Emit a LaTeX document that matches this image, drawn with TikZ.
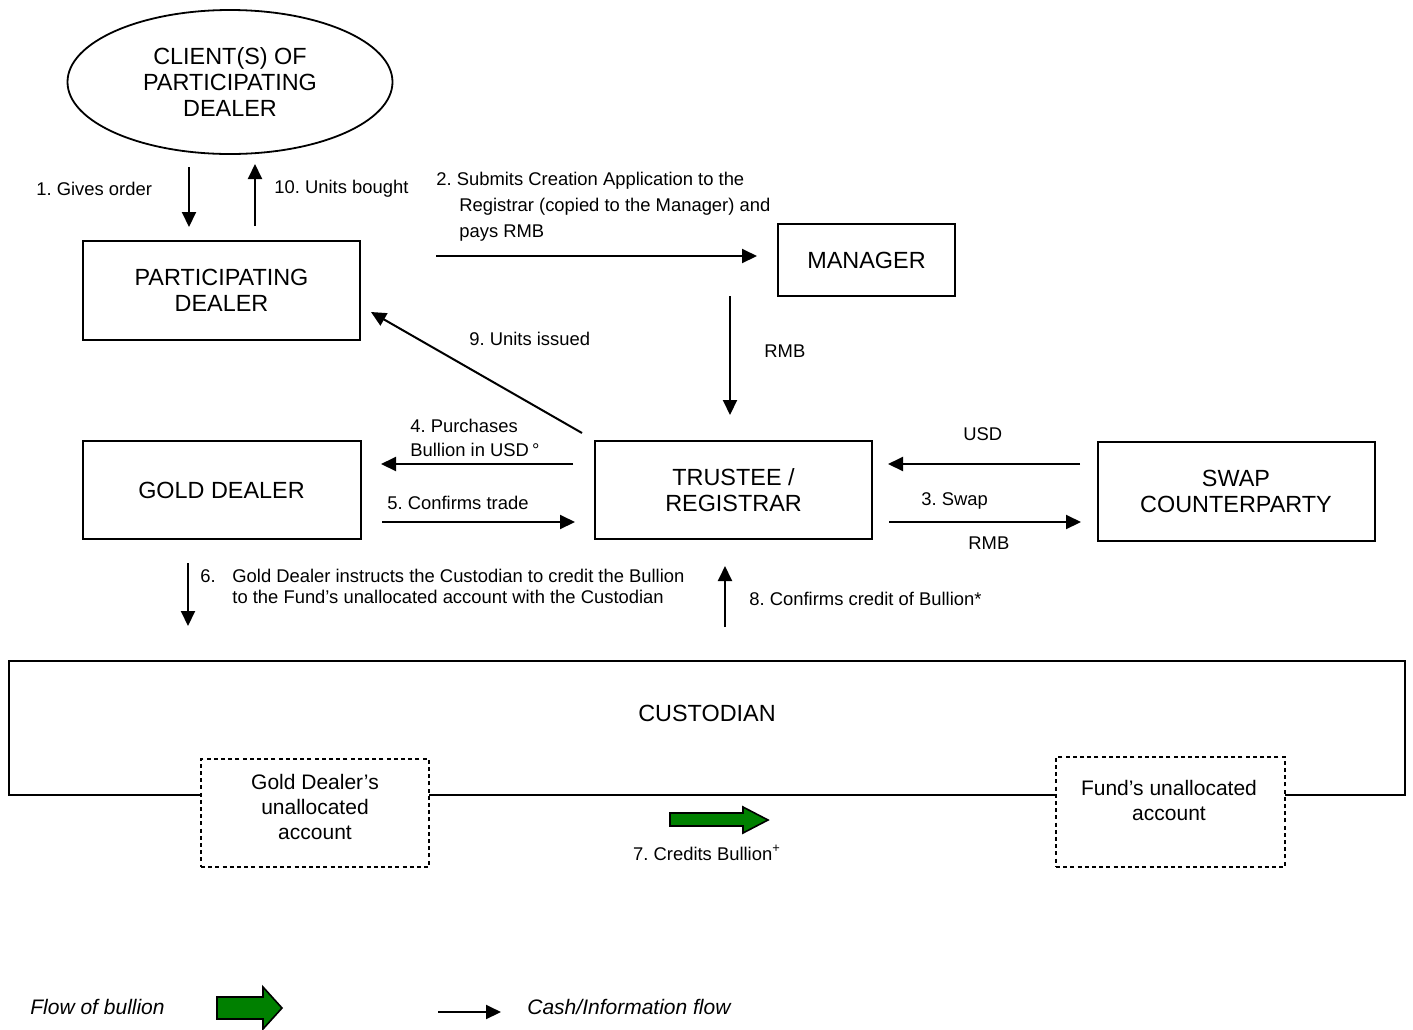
\documentclass[tikz,border=0pt]{standalone}
\usepackage{fontspec}
\setmainfont{Liberation Sans}
\usepackage{tikz}
\usetikzlibrary{shapes.geometric,arrows.meta}
\frenchspacing

\definecolor{bulliongreen}{RGB}{0,128,0}
\newcommand\partyfont{\fontsize{11.7}{13}\selectfont}
\newcommand\lblfont{\fontsize{9.2}{13}\selectfont}
\newcommand\acctfont{\fontsize{10.5}{12.5}\selectfont}

\tikzset{
  party/.style={draw, line width=1pt, align=center, font=\partyfont},
  acct/.style={draw, line width=0.9pt, dash pattern=on 2pt off 1.6pt, fill=white},
  flow/.style={-{Triangle[length=7.5pt,width=7pt]}, line width=1pt},
  lbl/.style={inner sep=0pt, align=left, font=\lblfont},
  bullion/.style={draw, line width=0.8pt, fill=bulliongreen},
}

\begin{document}
\begin{tikzpicture}[x=0.5pt, y=-0.5pt]
  \useasboundingbox (0,0) rectangle (1413,1029);

  \node[ellipse, draw, line width=0.9pt, minimum width=162.5pt, minimum height=72pt,
        align=center, font=\partyfont] (client) at (230,82) {CLIENT(S) OF\\PARTICIPATING\\DEALER};
  \node[party, minimum width=138.5pt, minimum height=49.5pt] (dealer) at (221.5,290.5) {PARTICIPATING\\DEALER};
  \node[party, minimum width=88.5pt, minimum height=36pt] (manager) at (866.5,260) {MANAGER};
  \node[party, minimum width=139pt, minimum height=49pt] (gold) at (221.5,490) {GOLD DEALER};
  \node[party, minimum width=138.5pt, minimum height=49pt] (trustee) at (733.5,490) {TRUSTEE /\\REGISTRAR};
  \node[party, minimum width=138.5pt, minimum height=49.5pt] (swap) at (1236,491.5) {SWAP\\COUNTERPARTY};

  % custodian and the two accounts
  \node[party, minimum width=698pt, minimum height=67pt] (cust) at (707,728) {};
  \node[font=\partyfont] (custname) at (707,713) {CUSTODIAN};
  \node[acct, minimum width=114pt, minimum height=54pt] (goldacct) at (315,813) {};
  \node[align=center, font=\acctfont] (goldacctname) at (315,807) {Gold Dealer’s\\unallocated\\account};
  \node[acct, minimum width=114.5pt, minimum height=55pt] (fundacct) at (1170.5,812) {};
  \node[align=center, font=\acctfont] (fundacctname) at (1169,800.5) {Fund’s unallocated\\account};

  % ends of the flows
  \coordinate (gives-a) at (189,167);   \coordinate (gives-b) at (189,227);
  \coordinate (bought-a) at (255,226);  \coordinate (bought-b) at (255,164);
  \coordinate (submit-a) at (436,256);  \coordinate (submit-b) at (757,256);
  \coordinate (rmb-a) at (730,296);     \coordinate (rmb-b) at (730,415);
  \coordinate (issued-a) at (582,433);  \coordinate (issued-b) at (371,312);
  \coordinate (buy-a) at (573,464);     \coordinate (buy-b) at (381,464);
  \coordinate (confirm-a) at (382,522); \coordinate (confirm-b) at (575,522);
  \coordinate (usd-a) at (1080,464);    \coordinate (usd-b) at (888,464);
  \coordinate (swap-a) at (889,522);    \coordinate (swap-b) at (1081,522);
  \coordinate (instr-a) at (188,563);   \coordinate (instr-b) at (188,626);
  \coordinate (credit-a) at (725,627);  \coordinate (credit-b) at (725,566);
  \coordinate (key-a) at (438,1012);    \coordinate (key-b) at (501,1012);

  \path[flow]
  (gives-a) edge (gives-b)
  (bought-a) edge (bought-b)
  (submit-a) edge (submit-b)
  (rmb-a) edge (rmb-b)
  (issued-a) edge (issued-b)
  (buy-a) edge (buy-b)
  (confirm-a) edge (confirm-b)
  (usd-a) edge (usd-b)
  (swap-a) edge (swap-b)
  (instr-a) edge (instr-b)
  (credit-a) edge (credit-b)
  (key-a) edge (key-b)
  ;

  % labels
  \node[lbl, anchor=west] (l-gives) at (36,189) {1. Gives order};
  \node[lbl, anchor=west] (l-bought) at (274,189) {10. Units bought};
  \node[lbl, anchor=west] (l-submit) at (436,207) {2. Submits Creation Application to the\\
    \hspace*{11.5pt}Registrar (copied to the Manager) and\\\hspace*{11.5pt}pays RMB};
  \node[lbl, anchor=west] (l-rmb) at (764,351) {RMB};
  \node[lbl, anchor=west] (l-issued) at (469,339) {9. Units issued};
  \node[lbl, anchor=west, font=\fontsize{9.2}{12}\selectfont] (l-buy) at (410,437.5) {4. Purchases\\Bullion in USD\,°};
  \node[lbl, anchor=west] (l-confirm) at (387,503) {5. Confirms trade};
  \node[lbl, anchor=west] (l-usd) at (963,434) {USD};
  \node[lbl, anchor=west] (l-swap) at (921,501) {3. Swap};
  \node[lbl, anchor=west] (l-swaprmb) at (968,543) {RMB};
  \node[lbl, anchor=west, font=\fontsize{9.2}{10.5}\selectfont] (l-instr) at (200,586.5)
    {\makebox[16pt][l]{6.}Gold Dealer instructs the Custodian to credit the Bullion\\
     \hspace*{16pt}to the Fund’s unallocated account with the Custodian};
  \node[lbl, anchor=west] (l-credit) at (749,599) {8. Confirms credit of Bullion*};
  \node[lbl] (l-credits) at (707,853) {7. Credits Bullion\textsuperscript{+}};

  % bullion arrows
  \draw[bullion] (670,813) -- (743,813) -- (743,807) -- (768,820) -- (743,833) -- (743,826) -- (670,826) -- cycle;
  \draw[bullion] (217,997) -- (263,997) -- (263,987) -- (282,1008) -- (263,1029) -- (263,1019) -- (217,1019) -- cycle;

  % key
  \node[lbl, anchor=west, font=\fontsize{10.5}{12}\selectfont\itshape] (key-bullion) at (30,1007) {Flow of bullion};
  \node[lbl, anchor=west, font=\fontsize{10.5}{12}\selectfont\itshape] (key-cash) at (527,1007) {Cash/Information flow};
\end{tikzpicture}
\end{document}
